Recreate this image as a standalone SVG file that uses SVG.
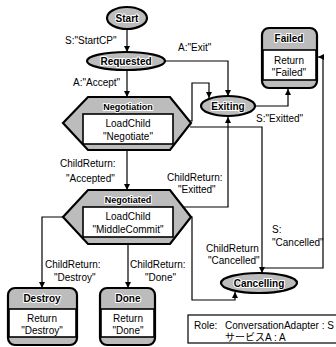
<svg xmlns="http://www.w3.org/2000/svg" width="336" height="347" viewBox="0 0 336 347">
<style>
text{font-family:"Liberation Sans",Arial,"Noto Sans CJK JP",sans-serif;font-size:10px;fill:#000}
.t{font-weight:bold;paint-order:stroke;stroke:#fff;stroke-width:2px;stroke-linejoin:round;text-anchor:middle}
.c{text-anchor:middle}
.sh{fill:#bcbcbc;stroke:#000;stroke-width:2.2}
.in{fill:#fff;stroke:#000;stroke-width:1.6}
.ln{fill:none;stroke:#000;stroke-width:1.2}
</style>
<defs>
<marker id="a" viewBox="0 0 8 8" refX="8" refY="4" markerWidth="6" markerHeight="6" orient="auto" markerUnits="userSpaceOnUse">
<path d="M0,0 L8,4 L0,8 z" fill="#000"/>
</marker>
</defs>
<rect width="336" height="347" fill="#fff"/>
<g id="connectors">
<path class="ln" d="M127,29 V52" marker-end="url(#a)"/>
<path class="ln" d="M127,70 V97" marker-end="url(#a)"/>
<path class="ln" d="M165,61 H228 V96" marker-end="url(#a)"/>
<path class="ln" d="M190,121 H192 V83 H209 V98" marker-end="url(#a)"/>
<path class="ln" d="M255,106 H288 V89" marker-end="url(#a)"/>
<path class="ln" d="M127,150 V190" marker-end="url(#a)"/>
<path class="ln" d="M190,127 H262 V273" marker-end="url(#a)"/>
<path class="ln" d="M184,207 H228 V117" marker-end="url(#a)"/>
<path class="ln" d="M262,268 H323 V57 H318" marker-end="url(#a)"/>
<path class="ln" d="M190,217 H192 V300 H235 V292" marker-end="url(#a)"/>
<path class="ln" d="M63,217 H42 V288" marker-end="url(#a)"/>
<path class="ln" d="M128,244 V288" marker-end="url(#a)"/>
<text x="65" y="44">S:"StartCP"</text>
<text x="73" y="86">A:"Accept"</text>
<text x="178" y="51">A:"Exit"</text>
<text x="256" y="122">S:"Exitted"</text>
<text x="60" y="167">ChildReturn:</text>
<text x="66" y="182">"Accepted"</text>
<text x="167" y="181">ChildReturn:</text>
<text x="178" y="193">"Exitted"</text>
<text x="272" y="233">S:</text>
<text x="272" y="246">"Cancelled"</text>
<text x="206" y="252">ChildReturn</text>
<text x="208" y="264">"Cancelled"</text>
<text x="45" y="268">ChildReturn:</text>
<text x="54" y="281">"Destroy"</text>
<text x="130" y="268">ChildReturn:</text>
<text x="145" y="281">"Done"</text>
</g>
<g id="start">
<ellipse class="sh" cx="127" cy="18" rx="20" ry="11"/>
<text class="t" x="127" y="22">Start</text>
</g>
<g id="requested">
<ellipse class="sh" cx="126" cy="61" rx="39" ry="9"/>
<text class="t" x="126" y="65">Requested</text>
</g>
<g id="negotiation">
<path class="sh" d="M63,123 L88,97 H170 L191,123 L170,150 H88 z"/>
<text class="t" x="128" y="110" style="font-size:9px">Negotiation</text>
<rect class="in" x="83" y="114" width="90" height="30"/>
<text class="c" x="128" y="127">LoadChild</text>
<text class="c" x="128" y="140">"Negotiate"</text>
</g>
<g id="negotiated">
<path class="sh" d="M63,217 L88,190 H170 L191,217 L170,244 H88 z"/>
<text class="t" x="128" y="203" style="font-size:9px">Negotiated</text>
<rect class="in" x="83" y="207" width="90" height="30"/>
<text class="c" x="128" y="220">LoadChild</text>
<text class="c" x="128" y="233">"MiddleCommit"</text>
</g>
<g id="exiting">
<ellipse class="sh" cx="228" cy="106" rx="27" ry="10"/>
<text class="t" x="228" y="110">Exiting</text>
</g>
<g id="cancelling">
<ellipse class="sh" cx="259" cy="283" rx="38" ry="10"/>
<text class="t" x="259" y="287">Cancelling</text>
</g>
<g id="failed">
<rect class="sh" x="262" y="28" width="55" height="60" rx="7"/>
<rect class="in" x="263" y="50" width="53" height="30"/>
<text class="t" x="289" y="42">Failed</text>
<text class="c" x="289" y="64">Return</text>
<text class="c" x="289" y="76">"Failed"</text>
</g>
<g id="destroy">
<rect class="sh" x="8" y="288" width="69" height="57" rx="7"/>
<rect class="in" x="9" y="309" width="67" height="28"/>
<text class="t" x="42" y="302">Destroy</text>
<text class="c" x="42" y="322">Return</text>
<text class="c" x="42" y="334">"Destroy"</text>
</g>
<g id="done">
<rect class="sh" x="100" y="288" width="55" height="57" rx="7"/>
<rect class="in" x="101" y="309" width="53" height="28"/>
<text class="t" x="128" y="302">Done</text>
<text class="c" x="128" y="322">Return</text>
<text class="c" x="128" y="334">"Done"</text>
</g>
<g id="role">
<rect x="188" y="315" width="160" height="28" fill="#fff" stroke="#000" stroke-width="1.2"/>
<text x="194" y="329">Role:</text>
<text x="225" y="329">ConversationAdapter : S</text>
<text x="225" y="341">サービスA : A</text>
</g>
</svg>
